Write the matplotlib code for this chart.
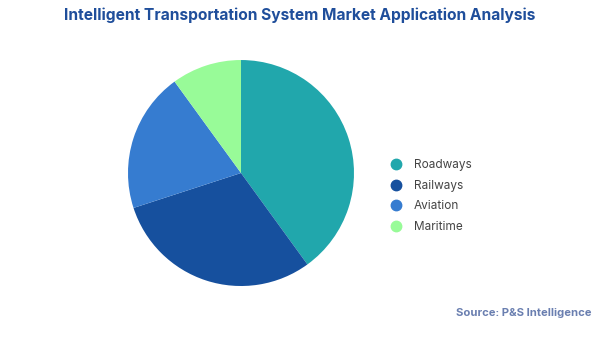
import matplotlib
matplotlib.use("Agg")
import matplotlib.pyplot as plt
from matplotlib.lines import Line2D

plt.rcParams['font.family'] = ['Inter', 'DejaVu Sans']

categories = ["Roadways", "Railways", "Aviation", "Maritime"]
shares = [40, 30, 20, 10]
colors = ["#21A7AC", "#16509E", "#367CD0", "#98FB98"]

title = "Intelligent Transportation System Market Application Analysis"
source = "Source: P&S Intelligence"

fig = plt.figure(figsize=(6.0, 3.37), dpi=100)
fig.patch.set_facecolor("white")

ax = fig.add_axes([0.2133, 0.1513, 0.3767, 0.6706])
ax.pie(shares, colors=colors, startangle=90, counterclock=False,
       wedgeprops=dict(linewidth=0))
ax.set_aspect("equal")
ax.set_xlim(-1, 1)
ax.set_ylim(-1, 1)
ax.axis("off")

fig.text(0.5, 0.955, title, ha="center", va="center", fontsize=11.2,
         fontweight="bold", color="#1F4E9B")

handles = [Line2D([0], [0], marker="o", linestyle="none", markersize=7.5,
                  markerfacecolor=c, markeredgecolor=c) for c in colors]
leg = fig.legend(handles, categories, loc="center left",
                 bbox_to_anchor=(0.650, 0.418), frameon=False,
                 fontsize=8.5, labelcolor="#444444", handletextpad=1.0,
                 labelspacing=0.72, handlelength=1.0, borderaxespad=0,
                 borderpad=0)

fig.text(0.985, 0.072, source, ha="right", va="center", fontsize=8.1,
         fontweight="bold", color="#6A7FB0")

fig.savefig("out.png", dpi=100)
